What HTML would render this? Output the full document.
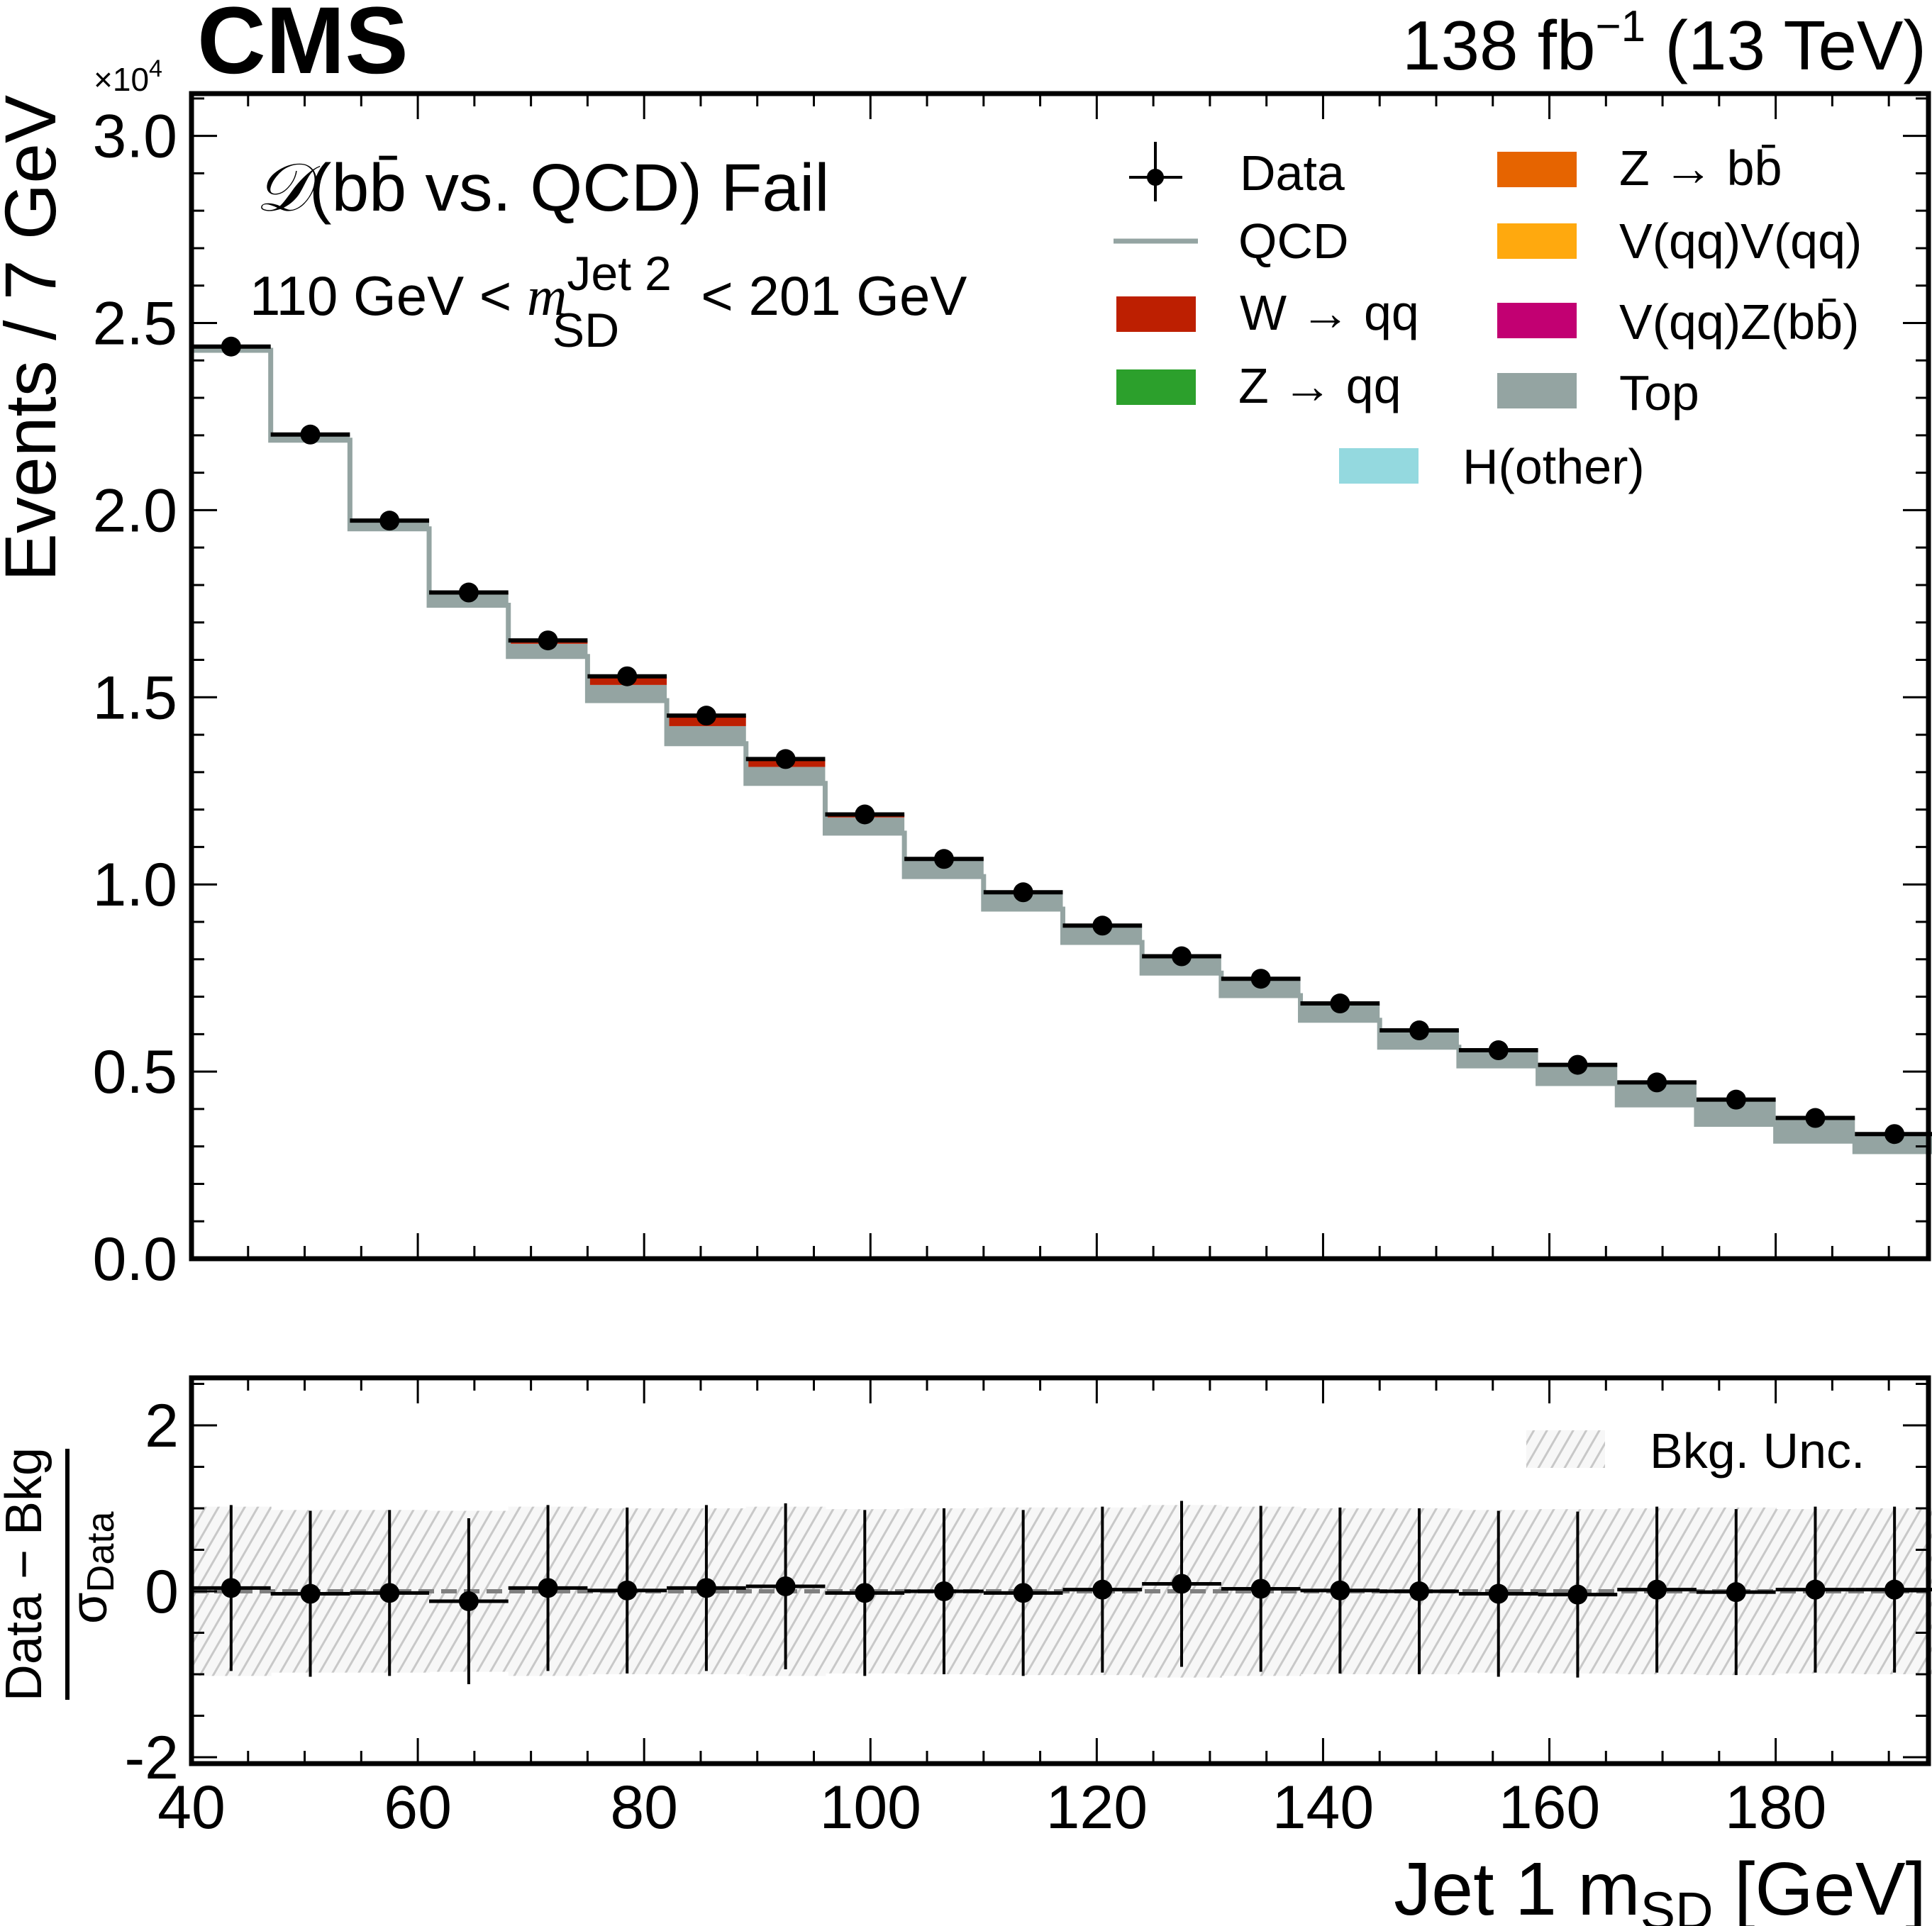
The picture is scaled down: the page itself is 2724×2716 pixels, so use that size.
<!DOCTYPE html>
<html><head><meta charset="utf-8"><style>
html,body{margin:0;padding:0;background:#fff;}
svg{display:block;font-family:"Liberation Sans",sans-serif;}
</style></head><body>
<svg id="c" xmlns="http://www.w3.org/2000/svg" width="2724" height="2716" viewBox="0 0 2724 2716">
<defs>
<pattern id="hatch" patternUnits="userSpaceOnUse" width="16" height="16" patternTransform="rotate(30)">
<rect width="16" height="16" fill="#f7f7f7"/><line x1="0" y1="0" x2="0" y2="16" stroke="#c8c8c8" stroke-width="6"/>
</pattern>
</defs>
<g id="main"></g>
</svg>
<script>
const edges=[40,47,54,61,68,75,82,89,96,103,110,117,124,131,138,145,152,159,166,173,180,187,194];
const dataVals=[2.437,2.202,1.972,1.780,1.652,1.556,1.451,1.335,1.187,1.068,0.979,0.890,0.808,0.748,0.682,0.610,0.557,0.518,0.471,0.425,0.376,0.333];
const qcdVals=[2.427,2.187,1.950,1.746,1.609,1.491,1.376,1.270,1.137,1.021,0.934,0.845,0.763,0.703,0.637,0.565,0.515,0.468,0.411,0.359,0.314,0.286];
const topVals=[0.010,0.015,0.020,0.030,0.034,0.042,0.047,0.044,0.042,0.045,0.045,0.045,0.045,0.045,0.045,0.045,0.042,0.050,0.060,0.066,0.062,0.047];
const wVals=[0,0,0.002,0.004,0.008,0.021,0.025,0.017,0.006,0.002,0,0,0,0,0,0,0,0,0,0,0,0];
const zVals=[0,0,0,0,0.001,0.002,0.003,0.004,0.002,0,0,0,0,0,0,0,0,0,0,0,0,0];
const pullVals=[0.04,-0.03,-0.02,-0.12,0.04,0.01,0.04,0.06,-0.02,0.00,-0.02,0.02,0.09,0.03,0.01,0.00,-0.03,-0.04,0.02,-0.01,0.02,0.02];
const pullErr=[1.00,1.00,1.00,1.00,1.00,1.00,1.00,1.00,1.00,1.00,1.00,1.00,1.00,1.00,1.00,1.00,1.00,1.00,1.00,1.00,1.00,1.00];
const uncVals=[1.02,0.98,0.98,0.97,1.02,1.00,1.00,1.02,0.99,1.00,1.01,1.01,1.04,1.02,1.00,1.00,0.98,0.99,1.00,1.01,0.99,1.00];
const yTicks=[0.0,0.5,1.0,1.5,2.0,2.5,3.0];
const yTickLabels=["0.0","0.5","1.0","1.5","2.0","2.5","3.0"];
const rTicks=[-2,0,2];
const rTickLabels=["-2","0","2"];
const xTicks=[40,60,80,100,120,140,160,180];
const xTickLabels=["40","60","80","100","120","140","160","180"];

const NS="http://www.w3.org/2000/svg";
const G=document.getElementById('main');
function el(tag,attrs,parent,text){const e=document.createElementNS(NS,tag);for(const k in attrs)e.setAttribute(k,attrs[k]);if(text!==undefined)e.textContent=text;(parent||G).appendChild(e);return e;}
const L=270,R=2719,T=132,B=1775,RT=1943,RB=2487;
const X=v=>L+(v-40)*(R-L)/(193.5-40);
const Y=v=>B-v*527.8;
const RY=v=>2244-v*117;

function stepBand(lo,hi,color,name){
  for(let i=0;i<lo.length;i++){
    const h=Y(lo[i])-Y(hi[i]); if(h<=0) continue;
    const r=el('rect',{x:X(edges[i]),y:Y(hi[i]),width:X(edges[i+1])-X(edges[i]),height:h,fill:color});
    
    
  }
}
const s1=qcdVals.map((v,i)=>v+topVals[i]);
const s2=s1.map((v,i)=>v+wVals[i]);
const s3=s2.map((v,i)=>v+zVals[i]);
stepBand(qcdVals,s1,'#94a4a2','top-stack');
stepBand(s1,s2,'#bd1f01','wqq-stack');
stepBand(s2,s3,'#2ca02c','zqq-stack');
function stepPath(vals,yf){let d='';for(let i=0;i<vals.length;i++){d+=(i?'L':'M')+X(edges[i])+','+yf(vals[i])+'L'+X(edges[i+1])+','+yf(vals[i]);}return d;}
let p=el('path',{d:stepPath(qcdVals,Y),fill:'none',stroke:'#94a4a2','stroke-width':7});


for(let i=0;i<s3.length;i++){
  const l=el('line',{x1:X(edges[i]),x2:X(edges[i+1]),y1:Y(s3[i]),y2:Y(s3[i]),stroke:'#000','stroke-width':6});
  
  
}
for(let i=0;i<dataVals.length;i++){
  const cx=X((edges[i]+edges[i+1])/2);
  const c=el('circle',{cx:cx,cy:Y(dataVals[i]),r:14,fill:'#000'});
  
  
}
for(let i=0;i<uncVals.length;i++){
  const r=el('rect',{x:X(edges[i]),y:RY(uncVals[i]),width:X(edges[i+1])-X(edges[i])+1,height:RY(-uncVals[i])-RY(uncVals[i]),fill:'url(#hatch)'});
  
  
}
let dz=el('line',{x1:L,x2:R,y1:RY(0),y2:RY(0),stroke:'#808080','stroke-width':6,'stroke-dasharray':'22,10'});


for(let i=0;i<pullVals.length;i++){
  const cx=X((edges[i]+edges[i+1])/2),cy=RY(pullVals[i]);
  const h=el('line',{x1:X(edges[i]),x2:X(edges[i+1]),y1:cy,y2:cy,stroke:'#000','stroke-width':5});
  
  
  const e=el('line',{x1:cx,x2:cx,y1:RY(pullVals[i]+pullErr[i]),y2:RY(pullVals[i]-pullErr[i]),stroke:'#000','stroke-width':4});
  
  
  const c=el('circle',{cx:cx,cy:cy,r:14,fill:'#000'});
  
  
}
function frame(top,bot,name){
  const r=el('rect',{x:L,y:top,width:R-L,height:bot-top,fill:'none',stroke:'#000','stroke-width':7});
  
  
  for(let v=40;v<=193;v+=5){
    const len=(v%20===0)?36:18, x=X(v);
    el('line',{x1:x,x2:x,y1:top,y2:top+len,stroke:'#000','stroke-width':3});
    el('line',{x1:x,x2:x,y1:bot,y2:bot-len,stroke:'#000','stroke-width':3});
  }
}
frame(T,B,'main-axes');
frame(RT,RB,'ratio-axes');
for(let k=0;k<=31;k++){const v=k/10;const y=Y(v);if(y<T)continue;const len=(k%5===0)?36:18;
  el('line',{x1:L,x2:L+len,y1:y,y2:y,stroke:'#000','stroke-width':3});
  el('line',{x1:R,x2:R-len,y1:y,y2:y,stroke:'#000','stroke-width':3});}
for(let k=-4;k<=5;k++){const v=k/2;const y=RY(v);if(y<RT||y>RB)continue;const len=(k%4===0)?36:18;
  el('line',{x1:L,x2:L+len,y1:y,y2:y,stroke:'#000','stroke-width':3});
  el('line',{x1:R,x2:R-len,y1:y,y2:y,stroke:'#000','stroke-width':3});}
yTicks.forEach((v,i)=>{const t=el('text',{x:250,y:Y(v)+30,'text-anchor':'end','font-size':86},G,yTickLabels[i]);
  
  });
rTicks.forEach((v,i)=>{const t=el('text',{x:252,y:RY(v)+30,'text-anchor':'end','font-size':86},G,rTickLabels[i]);
  
  });
xTicks.forEach((v,i)=>{const t=el('text',{x:X(v),y:2578,'text-anchor':'middle','font-size':86},G,xTickLabels[i]);
  
  });
</script>
<svg style="position:absolute;left:0;top:0" width="2724" height="2716" viewBox="0 0 2724 2716" font-family="Liberation Sans, sans-serif">
<text x="278" y="103" font-size="134" font-weight="bold">CMS</text>
<text x="132" y="128" font-size="46">×10<tspan font-size="34" dy="-20">4</tspan></text>
<text x="2716" y="98" font-size="98" text-anchor="end">138 fb<tspan font-size="62" dy="-40">−1</tspan><tspan dy="40"> (13 TeV)</tspan></text>
<text transform="translate(78,134) rotate(-90)" font-size="102" text-anchor="end">Events / 7 GeV</text>
<text x="2716" y="2700" font-size="106" text-anchor="end">Jet 1 m<tspan font-size="74" dy="20">SD</tspan><tspan dy="-20"> [GeV]</tspan></text>
<text x="360" y="297" font-size="95"><tspan font-family="Liberation Serif, serif" font-style="italic">𝒟</tspan>(bb̄ vs. QCD) Fail</text>
<text x="352" y="444" font-size="78">110 GeV &lt; <tspan font-family="Liberation Serif, serif" font-style="italic">m</tspan><tspan font-size="68" dy="-35">Jet 2</tspan><tspan font-size="68" dx="-168" dy="80">SD</tspan><tspan dx="115" dy="-45">&lt; 201 GeV</tspan></text>
<g font-size="70">
<g><line x1="1592" x2="1667" y1="250" y2="250" stroke="#000" stroke-width="4"/><line x1="1629" x2="1629" y1="200" y2="284" stroke="#000" stroke-width="4"/><circle cx="1629" cy="250" r="12"/><text x="1748" y="268">Data</text></g>
<g><line x1="1570" x2="1689" y1="340" y2="340" stroke="#94a4a2" stroke-width="7"/><text x="1746" y="364">QCD</text></g>
<g><rect x="1574" y="418" width="112" height="50" fill="#bd1f01"/><text x="1748" y="465">W → qq</text></g>
<g><rect x="1574" y="521" width="112" height="50" fill="#2ca02c"/><text x="1746" y="568">Z → qq</text></g>
<g><rect x="2111" y="214" width="112" height="50" fill="#e66400"/><text x="2283" y="261">Z → bb̄</text></g>
<g><rect x="2111" y="315" width="112" height="50" fill="#ffa90e"/><text x="2283" y="364">V(qq)V(qq)</text></g>
<g><rect x="2111" y="427" width="112" height="50" fill="#c20072"/><text x="2283" y="478">V(qq)Z(bb̄)</text></g>
<g><rect x="2111" y="526" width="112" height="50" fill="#94a4a2"/><text x="2283" y="578">Top</text></g>
<g><rect x="1888" y="632" width="112" height="50" fill="#94d9df"/><text x="2062" y="682">H(other)</text></g>
</g>
<g><rect x="2152" y="2017" width="111" height="53" fill="url(#hatch2)"/><text x="2326" y="2070" font-size="70">Bkg. Unc.</text></g>
<defs><pattern id="hatch2" patternUnits="userSpaceOnUse" width="16" height="16" patternTransform="rotate(30)"><rect width="16" height="16" fill="#f7f7f7"/><line x1="0" y1="0" x2="0" y2="16" stroke="#c8c8c8" stroke-width="6"/></pattern></defs>
<g>
<text transform="translate(58,2220) rotate(-90)" font-size="72" text-anchor="middle">Data − Bkg</text>
<line x1="95" x2="95" y1="2043" y2="2397" stroke="#000" stroke-width="6"/>
<text transform="translate(150,2290) rotate(-90)" font-size="72">σ<tspan font-size="54" dy="10">Data</tspan></text>
</g>
</svg>
</body></html>
